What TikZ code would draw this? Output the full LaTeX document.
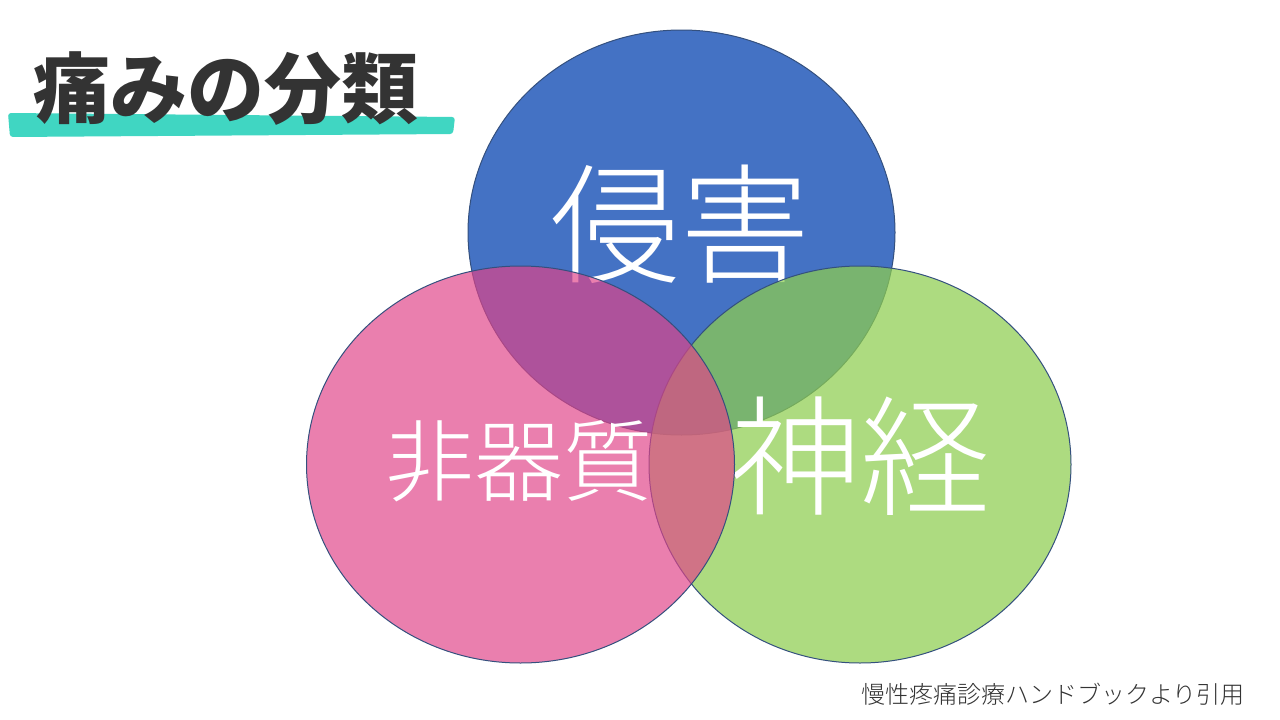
\documentclass[tikz,border=0pt]{standalone}
\usepackage{fontspec}
\newfontfamily\jplight{Noto Sans CJK JP Light}
\newfontfamily\jpblack{Noto Sans CJK JP Black}
\definecolor{cblue}{HTML}{4472C4}
\definecolor{cgreen}{RGB}{142,206,79}
\definecolor{cpink}{RGB}{225,67,137}
\definecolor{cline}{HTML}{34507E}
\definecolor{cteal}{HTML}{40D6C2}
\definecolor{ctitle}{HTML}{333333}
\tikzset{
  venn/.style={draw=cline, line width=1pt},
  bigword/.style={text=white, inner sep=0pt, anchor=base, font=\jplight\fontsize{130}{130}\selectfont},
}
\begin{document}
\begin{tikzpicture}[x=1pt,y=-1pt]
\useasboundingbox[fill=white] (0,0) rectangle (1280,720);
% title underline stroke
\fill[cteal, rounded corners=3pt] (8,113) -- (455,117) -- (453,134) -- (10,137) -- cycle;
\node[anchor=base, inner sep=0pt, text=ctitle, font=\jpblack\fontsize{77}{77}\selectfont] (title) at (226,117) {痛みの分類};
% blue circle
\draw[venn, fill=cblue] (681.5,232.5) ellipse [x radius=213.5pt, y radius=202.5pt];
\node[bigword] (shingai) at (680,273) {侵害};
% green circle
\draw[venn, fill=cgreen, fill opacity=0.72] (860,464.5) ellipse [x radius=211pt, y radius=198.5pt];
\node[bigword] (shinkei) at (860,505) {神経};
% pink circle
\draw[venn, fill=cpink, fill opacity=0.68] (520.5,464.5) ellipse [x radius=214pt, y radius=198.5pt];
\node[bigword, font=\jplight\fontsize{89}{89}\selectfont] (hikishitsu) at (519,494) {非器質};
% source caption
\node[anchor=base east, inner sep=0pt, text=ctitle, font=\jplight\fontsize{24}{24}\selectfont] (source) at (1245,703) {慢性疼痛診療ハンドブックより引用};
\end{tikzpicture}
\end{document}
